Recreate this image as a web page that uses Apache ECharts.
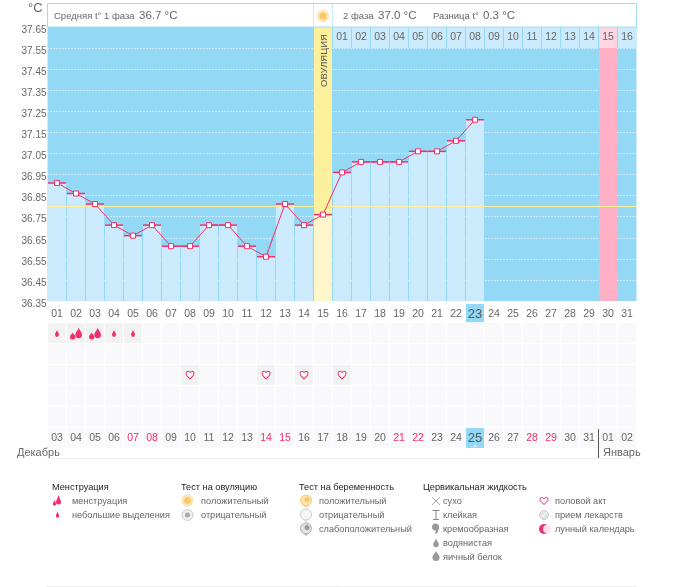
<!DOCTYPE html>
<html>
<head>
<meta charset="utf-8">
<style>html,body{margin:0;padding:0;background:#fff}#main{width:675px;height:587px}</style>
<script src="https://cdn.jsdelivr.net/npm/echarts@6/dist/echarts.min.js"></script>
</head>
<body>
<div id="main"></div>
<script>
// cycle days, calendar dates and weekends
var cycleDays = ['01','02','03','04','05','06','07','08','09','10','11','12','13','14','15','16','17','18','19','20','21','22','23','24','25','26','27','28','29','30','31'];
var dates = ['03','04','05','06','07','08','09','10','11','12','13','14','15','16','17','18','19','20','21','22','23','24','25','26','27','28','29','30','31','01','02'];
var weekendDates = ['07','08','14','15','21','22','28','29'];
var todayIndex = 22;
// basal temperature, one value per cycle day
var temps = [36.91,36.86,36.81,36.71,36.66,36.71,36.61,36.61,36.71,36.71,36.61,36.56,36.81,36.71,36.76,36.96,37.01,37.01,37.01,37.06,37.06,37.11,37.21];
var coverLine = 36.80;
var ovulationDay = 15;
var expectedDay = 30;
// second phase day numbers, starting right after ovulation
var phaseDays = ['01','02','03','04','05','06','07','08','09','10','11','12','13','14','15','16'];
// symptom rows: 1 light, 2 heavy
var flow = [1,2,2,1,1];
var intercourseDays = [8,12,14,16];
var symptomRows = 6;

var FONT = 'Liberation Sans';
var BLUE = '#93d8f5', PALE = '#cbebfc', PINK = '#f0306c', GREY = '#666';
var DROP = 'M5 0C5.5 3 10 6 10 10A5 5 0 0 1 0 10C0 6 4.5 3 5 0Z';
var DROPS = 'M13 0C13.5 4 18 7 18 12A5 5 0 0 1 8 12C8 7 12.5 4 13 0ZM4 8C4.5 10 8 12 8 15A4 4 0 0 1 0 15C0 12 3.5 10 4 8Z';
var HEART = 'M8 14C3 10 0 7.500 0 4.200C0 1.800 1.800 0 4 0C5.500 0 7 .9 8 2.400C9 .9 10.500 0 12 0C14.200 0 16 1.800 16 4.200C16 7.500 13 10 8 14Z';

var myChart = echarts.init(document.getElementById('main'));

function text(x, y, str, size, color) {
    return {
        type: 'text', x: x, y: y, silent: true,
        style: { text: str, fill: color || GREY, fontFamily: FONT, fontSize: size || 10, verticalAlign: 'middle' }
    };
}
function circle(x, y, r, fill, stroke) {
    return { type: 'circle', shape: { cx: x, cy: y, r: r }, silent: true, style: { fill: fill, stroke: stroke || null, lineWidth: 1 } };
}
function poly(points, fill, stroke) {
    return { type: 'polygon', shape: { points: points }, silent: true, style: { fill: fill, stroke: stroke || null, lineWidth: 1 } };
}
function line(x1, y1, x2, y2, color) {
    return { type: 'line', silent: true, shape: { x1: x1, y1: y1, x2: x2, y2: y2 }, style: { stroke: color, lineWidth: 1 } };
}
// drop = round belly + pointed top, (x, y) is the belly centre
function drop(x, y, r, h, fill) {
    return [poly([[x - r * 0.85, y - r * 0.4], [x, y - h], [x + r * 0.85, y - r * 0.4]], fill), circle(x, y, r, fill)];
}
function sun(x, y) {
    return [circle(x, y, 5.500, '#fdeab8', '#fbdf9c'), circle(x, y, 3.500, '#f9c770')];
}
function greySun(x, y) {
    return [circle(x, y, 5.500, '#eee', '#ccc'), circle(x, y, 2.500, '#aaa')];
}
function shield(x, y, fill, stroke, dot) {
    var out = [poly([[x - 3, y + 4], [x, y + 7], [x + 3, y + 4]], fill, stroke), circle(x, y, 5.500, fill, stroke)];
    if (dot) out.push(circle(x + 1, y - 1, 2.500, dot));
    return out;
}
function heart(x, y) {
    var pts = [[0,-1.5],[1,-2.8],[2.6,-3],[4,-1.8],[3.8,0],[2.2,2],[0,4],[-2.2,2],[-3.8,0],[-4,-1.8],[-2.6,-3],[-1,-2.8]];
    return poly(pts.map(function (p) { return [x + p[0], y + p[1]]; }), '#fff', PINK);
}

// header panel, month marks and legend
var graphics = [
    { type: 'rect', shape: { x: 47.500, y: 3.500, width: 589, height: 23.500 }, silent: true, style: { fill: '#fff', stroke: '#9edcf5', lineWidth: 1 } },
    line(313.500, 3.500, 313.500, 27, '#c5ebf9'),
    line(332.500, 3.500, 332.500, 27, '#c5ebf9'),
    text(54, 16, 'Средняя t° 1 фаза', 9.500),
    text(139, 15.500, '36.7 °C', 11.500),
    text(343, 16, '2 фаза', 9.500),
    text(378, 15.500, '37.0 °C', 11.500),
    text(433, 16, 'Разница t°', 9.500),
    text(483, 15.500, '0.3 °C', 11.500),
    text(28, 8, '°C', 13),
    { type: 'text', x: 324.500, y: 87, rotation: Math.PI / 2, silent: true, style: { text: 'ОВУЛЯЦИЯ', fill: '#555', fontFamily: FONT, fontSize: 9.500, verticalAlign: 'middle' } },
    text(17, 453, 'Декабрь', 11),
    text(603, 453, 'Январь', 11),
    line(47, 458.500, 637, 458.500, '#eee'),
    line(598.500, 429, 598.500, 458, '#555'),
    line(46, 586.500, 637, 586.500, '#eee'),
    poly([[473, 447], [475, 445], [477, 447]], '#fff')
].concat(sun(323, 16));

var legendBlocks = [
    { x: 52, title: 'Менструация', tx: 72, items: ['менструация', 'небольшие выделения'] },
    { x: 181, title: 'Тест на овуляцию', tx: 201, items: ['положительный', 'отрицательный'] },
    { x: 299, title: 'Тест на беременность', tx: 319, items: ['положительный', 'отрицательный', 'слабоположительный'] },
    { x: 423, title: 'Цервикальная жидкость', tx: 443, items: ['сухо', 'клейкая', 'кремообразная', 'водянистая', 'яичный белок'] },
    { x: 0, title: '', tx: 555, items: ['половой акт', 'прием лекарств', 'лунный календарь'] }
];
legendBlocks.forEach(function (b) {
    if (b.title) graphics.push(text(b.x, 487, b.title, 9.200, '#222'));
    b.items.forEach(function (s, i) { graphics.push(text(b.tx, 501 + i * 14, s, 9.200)); });
});
graphics = graphics.concat(
    drop(58.500, 502, 2.500, 7, PINK),
    drop(54.500, 504, 1.700, 4, PINK),
    drop(57.500, 516, 1.700, 4.500, PINK),
    sun(187.500, 500.500),
    greySun(187.500, 515),
    shield(306, 500.500, '#fde3ae', '#f7c878', '#f9c66a'),
    shield(306, 514.500, '#f6f6f6', '#ccc'),
    shield(306, 528.500, '#e4e4e4', '#aaa', '#999'),
    line(432, 497, 440, 505, '#aaa'),
    line(440, 497, 432, 505, '#aaa'),
    line(436, 511, 436, 519, '#888'),
    line(432.500, 510.500, 439.500, 510.500, '#888'),
    line(433, 519.500, 439, 519.500, '#888'),
    circle(435.500, 527, 3.500, '#999'),
    poly([[436, 525], [439, 528], [437.500, 533], [435, 534], [436, 530]], '#999'),
    drop(436, 544.500, 2.800, 6, '#999'),
    drop(436, 557.500, 3.600, 6.500, '#999'),
    heart(544, 500.500),
    circle(544, 515, 4.500, '#e4e4e4', '#ccc'),
    line(541, 518, 547, 512, '#fff'),
    circle(544, 529, 5, PINK),
    circle(547, 529, 4, '#fde0ea')
);
// panel and marks have to sit over the series
graphics.forEach(function (g) { g.z = 20; });

// symptom cells: background grid + marked days
var cells = [];
for (var r = 0; r < symptomRows; r++) {
    for (var c = 0; c < cycleDays.length; c++) {
        var active = (r === 0 && flow[c]) || (r === 2 && intercourseDays.indexOf(c + 1) >= 0);
        cells.push({ value: [c, r, 1], itemStyle: { color: active ? '#f2f2f2' : '#f9f8fa' } });
    }
}
var flowData = flow.map(function (v, i) {
    return v === 2
        ? { value: [i, 0], symbol: 'path://' + DROPS, symbolSize: [12, 12] }
        : { value: [i, 0], symbol: 'path://' + DROP, symbolSize: [4, 7] };
});
var heartData = intercourseDays.map(function (d) { return [d - 1, 2]; });

var bandData = cycleDays.map(function (d, i) {
    if (i + 1 === ovulationDay) return { value: 37.65, itemStyle: { color: '#fdf09c' } };
    if (i + 1 === expectedDay) return { value: 37.65, itemStyle: { color: '#ffb0c6' } };
    return null;
});
var barData = temps.map(function (v, i) {
    return i + 1 === ovulationDay ? { value: v, itemStyle: { color: '#fff6cc' } } : v;
});
var headerData = cycleDays.map(function (d, i) {
    var k = i + 1 - ovulationDay - 1;
    if (k < 0) return null;
    return {
        value: 1,
        itemStyle: { color: i + 1 === expectedDay ? '#fdd6e2' : PALE },
        label: { show: true, position: 'inside', formatter: phaseDays[k], color: GREY, fontFamily: FONT, fontSize: 10.500 }
    };
});

function dayLabel(todayIdx) {
    return function (value, i) {
        return (i === todayIdx ? '{t|' : '{n|') + value + '}';
    };
}
var labelRich = {
    n: { height: 20, lineHeight: 20, width: 18, align: 'center', fontFamily: FONT, fontSize: 10.500 },
    t: { height: 20, lineHeight: 20, width: 18, align: 'center', fontFamily: FONT, fontSize: 13, color: '#555', backgroundColor: BLUE }
};

var option = {
    animation: false,
    backgroundColor: '#fff',
    graphic: { elements: graphics },
    grid: [
        { left: 47.500, top: 27, width: 589, height: 274, show: true, backgroundColor: BLUE, borderWidth: 0 },
        { left: 47.500, top: 27, width: 589, height: 21, show: false },
        { left: 47.500, top: 323, width: 589, height: 125, show: false }
    ],
    xAxis: [
        {
            type: 'category', gridIndex: 0, data: cycleDays,
            axisLine: { show: false }, axisTick: { show: false },
            axisLabel: { interval: 0, margin: 3, color: GREY, formatter: dayLabel(todayIndex), rich: labelRich }
        },
        { type: 'category', gridIndex: 1, data: cycleDays, show: false },
        {
            type: 'category', gridIndex: 2, data: dates, z: 6,
            axisLine: { show: false }, axisTick: { show: false },
            axisLabel: {
                interval: 0, margin: -20,
                color: function (v) { return weekendDates.indexOf(v) >= 0 ? PINK : GREY; },
                formatter: dayLabel(todayIndex), rich: labelRich
            }
        }
    ],
    yAxis: [
        {
            type: 'value', gridIndex: 0, min: 36.35, max: 37.65, interval: 0.1,
            axisLine: { show: false }, axisTick: { show: false },
            axisLabel: {
                margin: 1, color: GREY, fontFamily: FONT, fontSize: 10, verticalAlign: 'top', lineHeight: 6,
                formatter: function (v) { return v.toFixed(2); }
            },
            splitLine: { show: true, showMinLine: false, showMaxLine: false, lineStyle: { color: '#fff', type: [1, 2], width: 1 } }
        },
        { type: 'value', gridIndex: 1, min: 0, max: 1, show: false },
        { type: 'category', gridIndex: 2, inverse: true, show: false, data: [0, 1, 2, 3, 4, 5] }
    ],
    series: [
        { type: 'bar', xAxisIndex: 0, yAxisIndex: 0, data: bandData, barWidth: 18, barGap: '-100%', z: 2 },
        {
            type: 'bar', xAxisIndex: 0, yAxisIndex: 0, data: barData, barWidth: 18, barGap: '-100%', z: 3,
            itemStyle: { color: PALE },
            markLine: {
                silent: true, symbol: 'none', label: { show: false },
                lineStyle: { color: '#fdf09c', type: 'solid', width: 1 },
                data: [{ yAxis: coverLine }]
            }
        },
        { type: 'bar', xAxisIndex: 1, yAxisIndex: 1, data: headerData, barWidth: 18, z: 4 },
        {
            type: 'scatter', xAxisIndex: 0, yAxisIndex: 0, data: temps, z: 5,
            symbol: 'rect', symbolSize: [18, 1.500], itemStyle: { color: PINK, opacity: 1 }
        },
        {
            type: 'line', xAxisIndex: 0, yAxisIndex: 0, data: temps, z: 6,
            symbol: 'rect', symbolSize: 5, showAllSymbol: true,
            lineStyle: { color: PINK, width: 1 },
            itemStyle: { color: '#fff', borderColor: PINK, borderWidth: 1 }
        },
        {
            type: 'heatmap', xAxisIndex: 2, yAxisIndex: 2, data: cells, z: 2,
            itemStyle: { borderColor: '#fff', borderWidth: 1 }, emphasis: { disabled: true }
        },
        {
            type: 'scatter', xAxisIndex: 2, yAxisIndex: 2, data: flowData, z: 5,
            itemStyle: { color: PINK, opacity: 1 }
        },
        {
            type: 'scatter', xAxisIndex: 2, yAxisIndex: 2, data: heartData, z: 5,
            symbol: 'path://' + HEART, symbolSize: [8, 7.500],
            itemStyle: { color: '#fff', borderColor: PINK, borderWidth: 1, opacity: 1 }
        }
    ]
};
myChart.setOption(option);
</script>
</body>
</html>
